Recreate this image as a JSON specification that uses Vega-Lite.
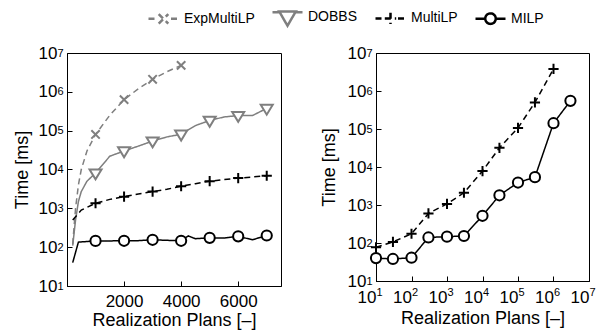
{
  "$schema": "https://vega.github.io/schema/vega-lite/v6.json",
  "background": "white",
  "padding": {"left": 12, "top": 0, "right": 5, "bottom": 5},
  "spacing": 95,
  "bounds": "flush",
  "datasets": {
    "left": [
      {"method": "ExpMultiLP", "x": 200, "t": 120},
      {"method": "ExpMultiLP", "x": 300, "t": 1000},
      {"method": "ExpMultiLP", "x": 400, "t": 4000},
      {"method": "ExpMultiLP", "x": 500, "t": 10000},
      {"method": "ExpMultiLP", "x": 700, "t": 30000},
      {"method": "ExpMultiLP", "x": 1000, "t": 80000},
      {"method": "ExpMultiLP", "x": 1500, "t": 250000},
      {"method": "ExpMultiLP", "x": 2000, "t": 630000},
      {"method": "ExpMultiLP", "x": 2500, "t": 1200000},
      {"method": "ExpMultiLP", "x": 3000, "t": 2100000},
      {"method": "ExpMultiLP", "x": 3500, "t": 3300000},
      {"method": "ExpMultiLP", "x": 4000, "t": 4800000},
      {"method": "DOBBS", "x": 200, "t": 110},
      {"method": "DOBBS", "x": 300, "t": 500},
      {"method": "DOBBS", "x": 400, "t": 1500},
      {"method": "DOBBS", "x": 500, "t": 2700},
      {"method": "DOBBS", "x": 700, "t": 5000},
      {"method": "DOBBS", "x": 1000, "t": 8100},
      {"method": "DOBBS", "x": 1500, "t": 22000},
      {"method": "DOBBS", "x": 2000, "t": 30000},
      {"method": "DOBBS", "x": 2500, "t": 40000},
      {"method": "DOBBS", "x": 3000, "t": 54000},
      {"method": "DOBBS", "x": 3500, "t": 69000},
      {"method": "DOBBS", "x": 4000, "t": 81000},
      {"method": "DOBBS", "x": 4500, "t": 135000},
      {"method": "DOBBS", "x": 5000, "t": 183000},
      {"method": "DOBBS", "x": 5500, "t": 225000},
      {"method": "DOBBS", "x": 6000, "t": 245000},
      {"method": "DOBBS", "x": 6500, "t": 245000},
      {"method": "DOBBS", "x": 7000, "t": 375000},
      {"method": "MultiLP", "x": 200, "t": 500},
      {"method": "MultiLP", "x": 500, "t": 900},
      {"method": "MultiLP", "x": 1000, "t": 1350},
      {"method": "MultiLP", "x": 1500, "t": 1700},
      {"method": "MultiLP", "x": 2000, "t": 2000},
      {"method": "MultiLP", "x": 2500, "t": 2350},
      {"method": "MultiLP", "x": 3000, "t": 2700},
      {"method": "MultiLP", "x": 3500, "t": 3100},
      {"method": "MultiLP", "x": 4000, "t": 3700},
      {"method": "MultiLP", "x": 4500, "t": 4300},
      {"method": "MultiLP", "x": 5000, "t": 5000},
      {"method": "MultiLP", "x": 5500, "t": 5500},
      {"method": "MultiLP", "x": 6000, "t": 6000},
      {"method": "MultiLP", "x": 6500, "t": 6400},
      {"method": "MultiLP", "x": 7000, "t": 6900},
      {"method": "MILP", "x": 200, "t": 40},
      {"method": "MILP", "x": 400, "t": 135},
      {"method": "MILP", "x": 1000, "t": 145},
      {"method": "MILP", "x": 1500, "t": 145},
      {"method": "MILP", "x": 2000, "t": 146},
      {"method": "MILP", "x": 2500, "t": 147},
      {"method": "MILP", "x": 3000, "t": 155},
      {"method": "MILP", "x": 3500, "t": 150},
      {"method": "MILP", "x": 4000, "t": 146},
      {"method": "MILP", "x": 4250, "t": 195},
      {"method": "MILP", "x": 4500, "t": 165},
      {"method": "MILP", "x": 5000, "t": 174},
      {"method": "MILP", "x": 5500, "t": 172},
      {"method": "MILP", "x": 6000, "t": 190},
      {"method": "MILP", "x": 6500, "t": 155},
      {"method": "MILP", "x": 7000, "t": 200}
    ],
    "right": [
      {"method": "MultiLP", "x": 10, "t": 77},
      {"method": "MultiLP", "x": 30, "t": 107},
      {"method": "MultiLP", "x": 100, "t": 175},
      {"method": "MultiLP", "x": 300, "t": 600},
      {"method": "MultiLP", "x": 1000, "t": 1070},
      {"method": "MultiLP", "x": 3000, "t": 2100},
      {"method": "MultiLP", "x": 10000, "t": 7800},
      {"method": "MultiLP", "x": 30000, "t": 32000},
      {"method": "MultiLP", "x": 100000, "t": 107000},
      {"method": "MultiLP", "x": 300000, "t": 500000},
      {"method": "MultiLP", "x": 1000000, "t": 3800000},
      {"method": "MILP", "x": 10, "t": 40},
      {"method": "MILP", "x": 30, "t": 38},
      {"method": "MILP", "x": 100, "t": 41},
      {"method": "MILP", "x": 300, "t": 140},
      {"method": "MILP", "x": 1000, "t": 147},
      {"method": "MILP", "x": 3000, "t": 153},
      {"method": "MILP", "x": 10000, "t": 520},
      {"method": "MILP", "x": 30000, "t": 1800},
      {"method": "MILP", "x": 100000, "t": 3900},
      {"method": "MILP", "x": 300000, "t": 5400},
      {"method": "MILP", "x": 1000000, "t": 142000},
      {"method": "MILP", "x": 3000000, "t": 550000}
    ]
  },
  "config": {
    "font": "Liberation Sans",
    "view": {"stroke": "black", "strokeWidth": 1},
    "axis": {
      "grid": false,
      "domainColor": "black",
      "tickColor": "black",
      "labelColor": "black",
      "titleColor": "black",
      "labelFont": "Liberation Sans",
      "titleFont": "Liberation Sans",
      "labelFontSize": 17,
      "titleFontSize": 18,
      "titleFontWeight": "normal",
      "tickSize": -5,
      "labelFlush": false,
      "labelOverlap": false
    },
    "legend": {
      "labelFont": "Liberation Sans",
      "labelFontSize": 14,
      "labelColor": "black"
    },
    "point": {"filled": false, "fill": "white", "strokeWidth": 2, "opacity": 1, "size": 144}
  },
  "resolve": {
    "scale": {"color": "shared", "strokeDash": "shared"},
    "legend": {"color": "shared"}
  },
  "hconcat": [
    {
      "width": 214,
      "height": 233,
      "data": {"name": "left"},
      "resolve": {"axis": {"y": "independent"}},
      "layer": [
        {
          "mark": {"type": "line", "strokeWidth": 1.5, "clip": true},
          "encoding": {
            "x": {"field": "x", "type": "quantitative", "scale": {"domain": [0, 7500], "nice": false, "zero": false},
                  "axis": {"values": [2000, 4000, 6000], "format": "d", "title": "Realization Plans [–]", "labelPadding": 12, "titlePadding": 2}},
            "y": {"field": "t", "type": "quantitative", "scale": {"type": "log", "domain": [10, 10000000], "nice": false},
                  "axis": {"values": [10, 100, 1000, 10000, 100000, 1000000, 10000000],
                           "labelExpr": "'10'", "labelPadding": 15,
                           "title": "Time [ms]", "titlePadding": 7}},
            "color": {"field": "method", "type": "nominal",
                      "scale": {"domain": ["ExpMultiLP", "DOBBS", "MultiLP", "MILP"], "range": ["#7f7f7f", "#7f7f7f", "#000000", "#000000"]},
                      "legend": {
                        "title": null, "orient": "none", "legendX": 80, "legendY": -53, "direction": "horizontal",
                        "symbolSize": 900, "symbolStrokeWidth": 2.5, "symbolDash": [1, 0], "columnPadding": 12, "labelOffset": 4,
                        "encode": {"symbols": {"update": {
                          "shape": {"signal": "datum.value === 'ExpMultiLP' ? 'M-1,0H-0.5M0.5,0H1M-0.32,-0.32L0.32,0.32M-0.32,0.32L0.32,-0.32' : datum.value === 'DOBBS' ? 'M-1,-0.3H-0.55M0.55,-0.3H1M-0.55,-0.35L0.55,-0.35L0,0.6Z' : datum.value === 'MultiLP' ? 'M-1,0H-0.5M0.5,0H1M-0.38,0H0.38M0,-0.38V0.38' : 'M-1,0H-0.35M0.35,0H1M0.35,0C0.35,0.1933,0.1933,0.35,0,0.35C-0.1933,0.35,-0.35,0.1933,-0.35,0C-0.35,-0.1933,-0.1933,-0.35,0,-0.35C0.1933,-0.35,0.35,-0.1933,0.35,0Z'"},
                          "fill": {"value": "white"},
                          "strokeDash": {"value": [1, 0]},
                          "strokeWidth": {"value": 2.5}
                        }}}
                      }},
            "strokeDash": {"field": "method", "type": "nominal",
                           "scale": {"domain": ["ExpMultiLP", "DOBBS", "MultiLP", "MILP"], "range": [[6, 4], [1, 0], [6, 4], [1, 0]]},
                           "legend": null}
          }
        },
        {
          "transform": [{"filter": "datum.method === 'ExpMultiLP' && datum.x % 1000 === 0"}],
          "mark": {"type": "point", "shape": "M-0.7,-0.7L0.7,0.7M-0.7,0.7L0.7,-0.7", "stroke": "#7f7f7f"},
          "encoding": {
            "x": {"field": "x", "type": "quantitative"},
            "y": {"field": "t", "type": "quantitative",
                  "axis": {"orient": "left", "values": [10, 100, 1000, 10000, 100000, 1000000, 10000000],
                           "labelExpr": "'' + round(log(datum.value)/LN10)",
                           "labelFontSize": 11, "labelPadding": 4, "labelDy": -7, "ticks": false, "domain": false, "title": null}}
          }
        },
        {
          "transform": [{"filter": "datum.method === 'DOBBS' && datum.x % 1000 === 0"}],
          "mark": {"type": "point", "shape": "M-1,-0.6L1,-0.6L0,1.05Z", "stroke": "#7f7f7f"},
          "encoding": {
            "x": {"field": "x", "type": "quantitative"},
            "y": {"field": "t", "type": "quantitative", "axis": null}
          }
        },
        {
          "transform": [{"filter": "datum.method === 'MultiLP' && datum.x % 1000 === 0"}],
          "mark": {"type": "point", "shape": "M-0.85,0H0.85M0,-0.85V0.85", "stroke": "#000000"},
          "encoding": {
            "x": {"field": "x", "type": "quantitative"},
            "y": {"field": "t", "type": "quantitative", "axis": null}
          }
        },
        {
          "transform": [{"filter": "datum.method === 'MILP' && datum.x % 1000 === 0"}],
          "mark": {"type": "point", "shape": "M0.85,0C0.85,0.4695,0.4695,0.85,0,0.85C-0.4695,0.85,-0.85,0.4695,-0.85,0C-0.85,-0.4695,-0.4695,-0.85,0,-0.85C0.4695,-0.85,0.85,-0.4695,0.85,0Z", "stroke": "#000000"},
          "encoding": {
            "x": {"field": "x", "type": "quantitative"},
            "y": {"field": "t", "type": "quantitative", "axis": null}
          }
        }
      ]
    },
    {
      "width": 213,
      "height": 228,
      "data": {"name": "right"},
      "resolve": {"axis": {"x": "independent", "y": "independent"}},
      "layer": [
        {
          "mark": {"type": "line", "strokeWidth": 1.5, "clip": true},
          "encoding": {
            "x": {"field": "x", "type": "quantitative", "scale": {"type": "log", "domain": [10, 10000000], "nice": false},
                  "axis": {"values": [10, 100, 1000, 10000, 100000, 1000000, 10000000],
                           "labelExpr": "'10'", "labelAlign": "right", "labelDx": 0, "labelPadding": 13,
                           "title": "Realization Plans [–]", "titlePadding": 4}},
            "y": {"field": "t", "type": "quantitative", "scale": {"type": "log", "domain": [10, 10000000], "nice": false},
                  "axis": {"values": [10, 100, 1000, 10000, 100000, 1000000, 10000000],
                           "labelExpr": "'10'", "labelPadding": 15,
                           "title": "Time [ms]", "titlePadding": 9}},
            "color": {"field": "method", "type": "nominal"},
            "strokeDash": {"field": "method", "type": "nominal", "legend": null}
          }
        },
        {
          "transform": [{"filter": "datum.method === 'MultiLP'"}],
          "mark": {"type": "point", "shape": "M-0.85,0H0.85M0,-0.85V0.85", "stroke": "#000000"},
          "encoding": {
            "x": {"field": "x", "type": "quantitative",
                  "axis": {"orient": "bottom", "values": [10, 100, 1000, 10000, 100000, 1000000, 10000000],
                           "labelExpr": "'' + round(log(datum.value)/LN10)",
                           "labelFontSize": 11, "labelAlign": "left", "labelDx": 3, "labelPadding": 5, "ticks": false, "domain": false, "title": null}},
            "y": {"field": "t", "type": "quantitative",
                  "axis": {"orient": "left", "values": [10, 100, 1000, 10000, 100000, 1000000, 10000000],
                           "labelExpr": "'' + round(log(datum.value)/LN10)",
                           "labelFontSize": 11, "labelPadding": 4, "labelDy": -7, "ticks": false, "domain": false, "title": null}}
          }
        },
        {
          "transform": [{"filter": "datum.method === 'MILP'"}],
          "mark": {"type": "point", "shape": "M0.85,0C0.85,0.4695,0.4695,0.85,0,0.85C-0.4695,0.85,-0.85,0.4695,-0.85,0C-0.85,-0.4695,-0.4695,-0.85,0,-0.85C0.4695,-0.85,0.85,-0.4695,0.85,0Z", "stroke": "#000000"},
          "encoding": {
            "x": {"field": "x", "type": "quantitative", "axis": null},
            "y": {"field": "t", "type": "quantitative", "axis": null}
          }
        }
      ]
    }
  ]
}
